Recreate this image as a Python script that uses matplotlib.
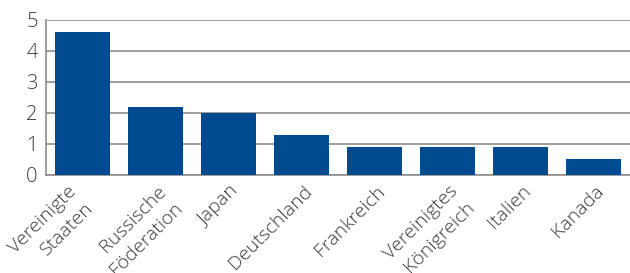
import matplotlib.pyplot as plt
from matplotlib.transforms import ScaledTranslation

countries = ["Vereinigte\nStaaten", "Russische\nFöderation", "Japan", "Deutschland",
             "Frankreich", "Vereinigtes\nKönigreich", "Italien", "Kanada"]
values = [4.6, 2.2, 2.0, 1.3, 0.9, 0.9, 0.9, 0.5]

plt.rcParams['font.family'] = ['Open Sans', 'DejaVu Sans']

fig = plt.figure(figsize=(6.3, 2.73), dpi=100)
ax = fig.add_axes([0.073, 0.359, 0.927, 0.568])

x = range(len(countries))
ax.bar(x, values, width=0.76, color="#004a90", zorder=3)

ax.set_xlim(-0.5, len(countries) - 0.5)
ax.set_ylim(0, 5)
ax.set_yticks([0, 1, 2, 3, 4, 5])
ax.yaxis.grid(True, color="#8c8c8c", linewidth=1.2, zorder=0)
ax.set_axisbelow(True)

for s in ["top", "right"]:
    ax.spines[s].set_visible(False)
ax.spines["left"].set_color("#8c8c8c")
ax.spines["bottom"].set_color("#8c8c8c")
ax.spines["left"].set_linewidth(1.2)
ax.spines["bottom"].set_linewidth(1.2)

ax.tick_params(axis="both", length=0, colors="#3a3a3a")
ax.tick_params(axis="y", labelsize=14.5, pad=6)
for lab in ax.get_yticklabels():
    lab.set_fontweight("light")
ax.set_xticks(list(x))
ax.set_xticklabels(countries, rotation=45, ha="right", rotation_mode="anchor",
                   multialignment="right", fontsize=14, color="#3a3a3a",
                   fontweight="light", linespacing=1.4)
ax.tick_params(axis="x", pad=5)
# shift labels a little right; the first one sits further left in the original
for i, lab in enumerate(ax.get_xticklabels()):
    dx = 1 if i > 0 else -11
    lab.set_transform(lab.get_transform() + ScaledTranslation(dx / 72, 0, fig.dpi_scale_trans))

fig.savefig("out.png", dpi=100)
